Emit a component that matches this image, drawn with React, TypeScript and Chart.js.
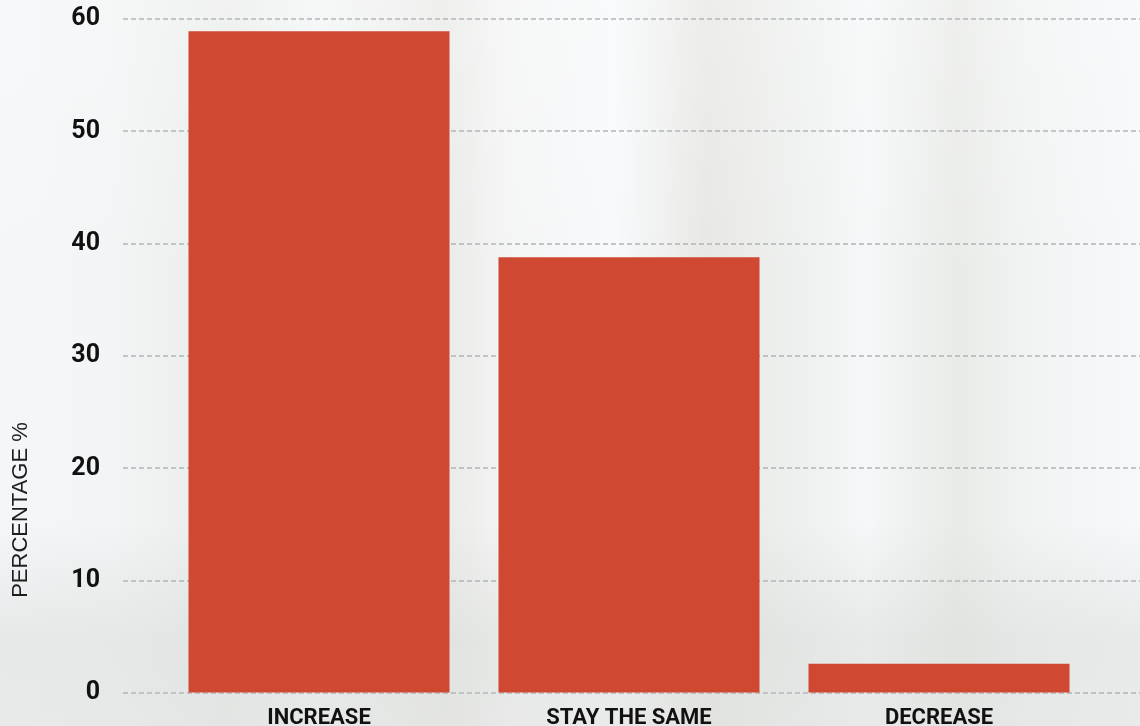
import React, { useEffect, useRef } from "react";
import { Chart, registerables } from "chart.js";

Chart.register(...registerables);

const categories = ["INCREASE", "STAY THE SAME", "DECREASE"];
const percentages = [58.9, 38.8, 2.6];
const yMin = 0;
const yMax = 60;
const yStep = 10;
const yTitle = "PERCENTAGE %";

const BAR_COLOR = "#cf4832";

export default function App() {
  const ref = useRef<HTMLCanvasElement>(null);

  useEffect(() => {
    document.body.style.margin = "0";
    const canvas = ref.current;
    if (!canvas) return;

    const gridPlugin = {
      id: "fullGrid",
      beforeDatasetsDraw(chart: any) {
        const ctx = chart.ctx;
        const y = chart.scales.y;
        ctx.save();
        ctx.strokeStyle = "#b3b5b7";
        ctx.lineWidth = 1.5;
        ctx.setLineDash([5, 3]);
        y.ticks.forEach((t: any) => {
          const py = Math.round(y.getPixelForValue(t.value));
          ctx.beginPath();
          ctx.moveTo(123, py);
          ctx.lineTo(chart.width, py);
          ctx.stroke();
        });
        ctx.restore();
      },
    };

    const titlePlugin = {
      id: "yTitleFree",
      afterDraw(chart: any) {
        const ctx = chart.ctx;
        ctx.save();
        ctx.translate(21, 510);
        ctx.rotate(-Math.PI / 2);
        ctx.font = "22px 'Liberation Sans', Arial, sans-serif";
        ctx.fillStyle = "#1e1e1e";
        ctx.textAlign = "center";
        ctx.textBaseline = "middle";
        ctx.fillText(yTitle, 0, 0);
        ctx.restore();
      },
    };

    const chart = new Chart(canvas, {
      type: "bar",
      data: {
        labels: categories,
        datasets: [
          {
            data: percentages,
            backgroundColor: BAR_COLOR,
            borderWidth: 0,
            barPercentage: 0.842,
            categoryPercentage: 1,
          },
        ],
      },
      options: {
        animation: false,
        responsive: false,
        maintainAspectRatio: false,
        layout: { padding: { top: 18, right: 46, bottom: 0, left: 0 } },
        plugins: {
          legend: { display: false },
          tooltip: { enabled: false },
        },
        scales: {
          x: {
            grid: { display: false, drawTicks: false },
            border: { display: false },
            afterFit(scale: any) {
              scale.height = 33;
            },
            ticks: {
              color: "#111",
              padding: 12,
              font: { family: "Roboto", weight: "bold", size: 22 },
              maxRotation: 0,
              autoSkip: false,
            },
          },
          y: {
            min: yMin,
            max: yMax,
            grid: {
              display: true,
              drawOnChartArea: false,
              drawTicks: true,
              tickLength: 60,
              color: "rgba(0,0,0,0)",
              tickColor: "rgba(0,0,0,0)",
            },
            border: { display: false },
            afterFit(scale: any) {
              scale.width = 164;
            },
            ticks: {
              stepSize: yStep,
              color: "#111",
              padding: 4,
              font: { family: "Roboto", weight: "bold", size: 25 },
            },
          },
        },
      },
      plugins: [gridPlugin, titlePlugin],
    });

    return () => chart.destroy();
  }, []);

  const bg = [
    "linear-gradient(180deg, rgba(255,255,255,0.25) 0%, rgba(255,255,255,0) 40%, rgba(255,255,255,0) 72%, rgba(214,217,214,0.45) 88%, rgba(220,222,220,0.5) 100%)",
    "linear-gradient(90deg, #f4f6f8 0%, #f2f4f5 10%, #ebedec 20%, #f3f5f6 28%, #eaebe8 39%, #f4f5f5 45%, #f7f9fb 54%, #e7e8e4 62%, #eef0ef 70%, #f5f7f8 76%, #e9ebe8 84%, #f1f3f3 90%, #f6f8fa 100%)",
  ].join(", ");

  return (
    <div
      style={{
        position: "fixed",
        left: 0,
        top: 0,
        width: 1140,
        height: 726,
        background: bg,
      }}
    >
      <canvas ref={ref} width={1140} height={726} style={{ display: "block", width: 1140, height: 726 }} />
    </div>
  );
}
